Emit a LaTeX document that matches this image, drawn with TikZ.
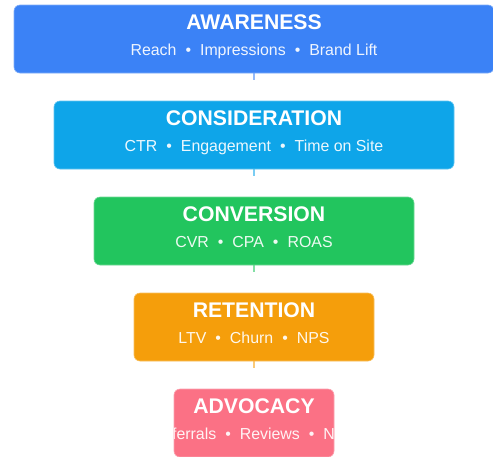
\documentclass[tikz,border=0pt]{standalone}
\usepackage{fontspec}
\setmainfont{Liberation Sans}
\usetikzlibrary{calc}

\definecolor{awareC}{HTML}{3B82F6}
\definecolor{considerC}{HTML}{0EA5E9}
\definecolor{convertC}{HTML}{22C55E}
\definecolor{retainC}{HTML}{F59E0B}
\definecolor{advocateC}{HTML}{FB7185}

\newcommand{\sep}{\hspace{9pt}•\hspace{9pt}}

\tikzset{
  stage/.style={rectangle, rounded corners=6pt, minimum height=68pt,
    inner sep=0pt, draw=#1!65!white, line width=0.6pt, fill=#1},
  stagetitle/.style={anchor=base, text=white, inner sep=0pt,
    font=\fontsize{21.2}{25}\selectfont\bfseries},
  stagemetrics/.style={anchor=base, text=white, text opacity=0.92, inner sep=0pt,
    font=\fontsize{15.9}{19}\selectfont},
  stub/.style={draw=#1!55!white, line width=2pt},
}

% one funnel stage: name, colour, width, centre y, title, metrics
\newcommand{\funnelstage}[6]{%
  \node[stage=#2, minimum width=#3pt] (#1) at (254,#4) {};
  \begin{scope}
    \clip[rounded corners=6pt] (#1.south west) rectangle (#1.north east);
    \node[stagetitle] (#1-title) at ($(#1.north)+(0,24.5)$) {#5};
    \node[stagemetrics] (#1-metrics) at ($(#1.north)+(0,51)$) {#6};
  \end{scope}
}

\begin{document}
\begin{tikzpicture}[x=1pt, y=-1pt]
  \useasboundingbox[fill=white] (0,0) rectangle (493,456);

  % connector stubs below each stage, drawn first so the boxes cover them
  \foreach \nm/\col/\yy in {aw/awareC/73, co/considerC/169, cv/convertC/265, re/retainC/361}{
    \coordinate (\nm-top) at (254,\yy);
    \coordinate (\nm-end) at (254,\yy+7);
    \draw[stub=\col] (\nm-top) -- (\nm-end);
  }

  \funnelstage{aw}{awareC}{480}{39}{AWARENESS}{Reach\sep Impressions\sep Brand Lift}
  \funnelstage{co}{considerC}{400}{135}{CONSIDERATION}{CTR\sep Engagement\sep Time on Site}
  \funnelstage{cv}{convertC}{320}{231}{CONVERSION}{CVR\sep CPA\sep ROAS}
  \funnelstage{re}{retainC}{240}{327}{RETENTION}{LTV\sep Churn\sep NPS}
  \funnelstage{ad}{advocateC}{160}{423}{ADVOCACY}{Referrals\sep Reviews\sep NPS}
\end{tikzpicture}
\end{document}
